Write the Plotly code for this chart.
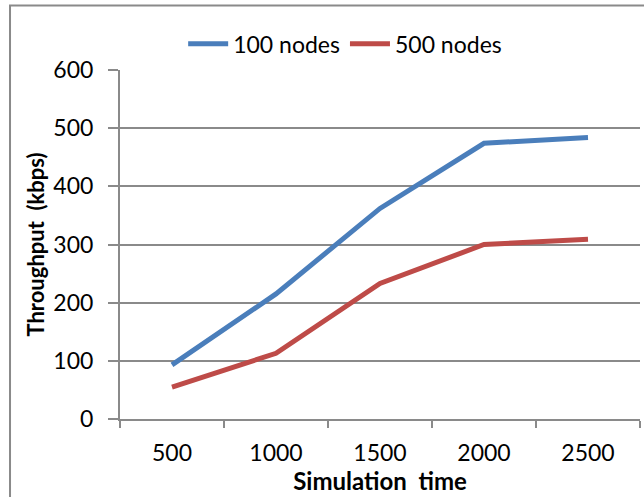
import plotly.graph_objects as go

categories = ["500", "1000", "1500", "2000", "2500"]
nodes_100 = [93, 215, 362, 474, 484]
nodes_500 = [55, 113, 233, 300, 309]
y_ticks = [0, 100, 200, 300, 400, 500, 600]

FONT = "Lato, 'Open Sans', sans-serif"
GRID = "#8a8a8a"

fig = go.Figure()
fig.add_trace(go.Scatter(x=categories, y=nodes_100, mode="lines", name="100 nodes",
                         line=dict(color="#4A7EBB", width=5)))
fig.add_trace(go.Scatter(x=categories, y=nodes_500, mode="lines", name="500 nodes",
                         line=dict(color="#BE4B48", width=5)))

fig.update_layout(
    width=644, height=497,
    margin=dict(l=120, r=4, t=69.5, b=78),
    paper_bgcolor="white", plot_bgcolor="white",
    font=dict(family=FONT, size=23, color="#000000"),
    legend=dict(orientation="h", x=0.433, xanchor="center", y=1.075, yanchor="middle",
                font=dict(size=23), itemwidth=40, bgcolor="rgba(0,0,0,0)",
                tracegroupgap=0),
    xaxis=dict(type="category", range=[-0.5, 4.5], showgrid=False,
               showline=True, linecolor=GRID, linewidth=2,
               ticks="outside", ticklen=7, tickcolor=GRID, tickwidth=2,
               tickson="boundaries", ticklabelstandoff=12,
               title=dict(text="<b>Simulation  time</b>", font=dict(size=24), standoff=2),
               tickfont=dict(size=23)),
    yaxis=dict(range=[0, 600], tickvals=y_ticks, showgrid=True, gridcolor=GRID, gridwidth=1.5,
               showline=True, linecolor=GRID, linewidth=2,
               ticks="outside", ticklen=10, tickcolor=GRID, tickwidth=2,
               ticklabelstandoff=10, zeroline=False,
               title=dict(text="<b>Throughput  (kbps)</b>", font=dict(size=22), standoff=3),
               tickfont=dict(size=23)),
)

fig.add_shape(type="rect", xref="paper", yref="paper",
              x0=-0.2115, x1=1.05, y0=-0.3, y1=1.185,
              line=dict(color=GRID, width=2), fillcolor="rgba(0,0,0,0)", layer="below")

fig.write_html("out.html")
